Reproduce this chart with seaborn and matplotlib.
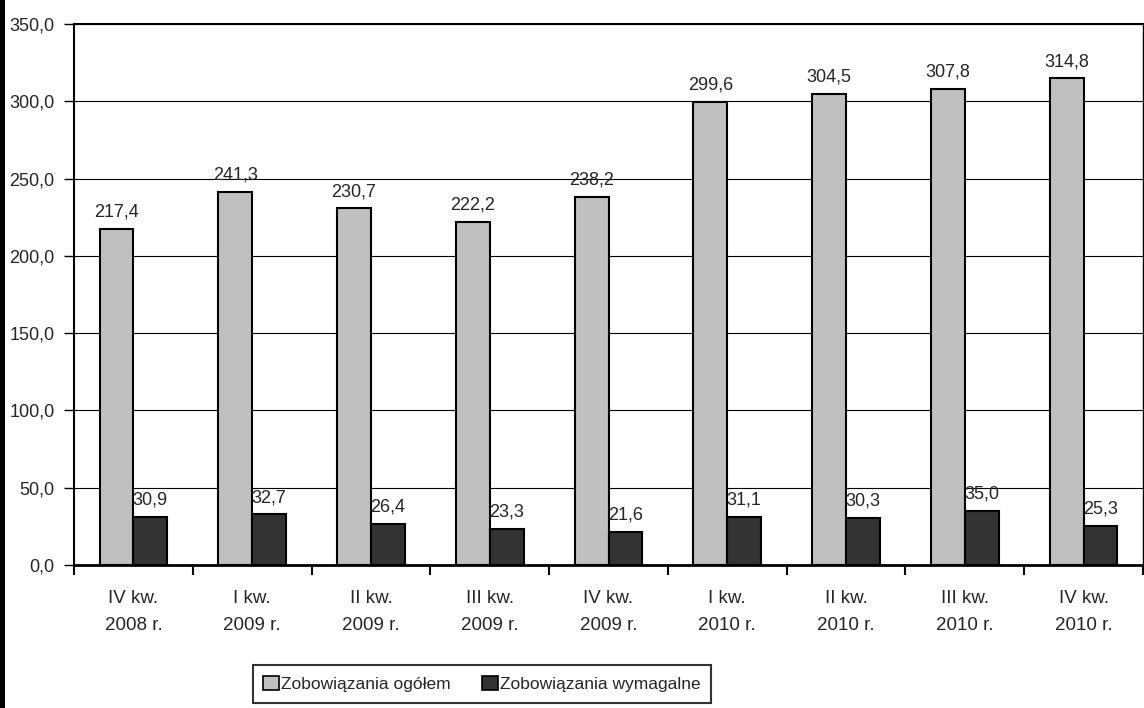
import pandas as pd
import seaborn as sns
import matplotlib.pyplot as plt
from matplotlib.patches import Rectangle

# data
quarters = ['IV kw.\n2008 r.', 'I kw.\n2009 r.', 'II kw.\n2009 r.', 'III kw.\n2009 r.', 'IV kw.\n2009 r.',
            'I kw.\n2010 r.', 'II kw.\n2010 r.', 'III kw.\n2010 r.', 'IV kw.\n2010 r.']
ogolem = [217.4, 241.3, 230.7, 222.2, 238.2, 299.6, 304.5, 307.8, 314.8]
wymagalne = [30.9, 32.7, 26.4, 23.3, 21.6, 31.1, 30.3, 35.0, 25.3]
series = ['Zobowiązania ogółem', 'Zobowiązania wymagalne']

df = pd.DataFrame({
    'kw': quarters * 2,
    'val': ogolem + wymagalne,
    'ser': [series[0]] * len(quarters) + [series[1]] * len(quarters),
})

sns.set_style('white')
plt.rcParams['font.family'] = ['Liberation Sans', 'DejaVu Sans']

fig = plt.figure(figsize=(11.44, 7.08), dpi=100)
ax = fig.add_axes([74 / 1144, 1 - 565 / 708, (1143 - 74) / 1144, (565 - 24) / 708])

sns.barplot(data=df, x='kw', y='val', hue='ser', palette=['#C0C0C0', '#333333'],
            width=0.57, edgecolor='black', linewidth=1.5, ax=ax, legend=True)

ax.set_ylim(0, 350)
ax.set_xlim(-0.5, len(quarters) - 0.5)
ax.set_yticks(range(0, 351, 50))
ax.set_yticklabels([f'{v:.1f}'.replace('.', ',') for v in range(0, 351, 50)], fontsize=13)
ax.yaxis.grid(True, color='black', linewidth=0.8)
ax.set_axisbelow(True)
ax.set_xlabel('')
ax.set_ylabel('')

# category ticks sit between the groups
ax.set_xticks([i - 0.5 for i in range(len(quarters) + 1)], minor=False)
ax.set_xticklabels([])
ax.tick_params(axis='x', which='major', direction='out', length=7, width=1.5, color='black', bottom=True)
ax.set_xticks(range(len(quarters)), minor=True)
ax.set_xticklabels(quarters, minor=True, fontsize=13.5, linespacing=1.75)
ax.tick_params(axis='x', which='minor', length=0, pad=18)
ax.tick_params(axis='y', direction='out', length=7, width=1, color='black', left=True, pad=7)

for s in ax.spines.values():
    s.set_color('black')
    s.set_linewidth(1.5)
ax.spines['bottom'].set_linewidth(2)
ax.spines['right'].set_linewidth(1)

for cont in ax.containers:
    ax.bar_label(cont, labels=[f'{v:.1f}'.replace('.', ',') for v in cont.datavalues],
                 padding=6, fontsize=13)

ax.get_legend().remove()
handles = [Rectangle((0, 0), 1, 1, facecolor=c, edgecolor='black', linewidth=1.2)
           for c in ['#C0C0C0', '#333333']]
leg = fig.legend(handles, series, loc='center', bbox_to_anchor=(482 / 1144, 1 - 684 / 708),
                 ncol=2, fontsize=12.5, frameon=True, fancybox=False, edgecolor='black',
                 handlelength=0.9, handleheight=0.9, handletextpad=0.15, columnspacing=1.8,
                 borderpad=0.6, borderaxespad=0)
leg.get_frame().set_linewidth(1.5)

# black strip along the left edge
fig.patches.append(Rectangle((0, 0), 5 / 1144, 1, transform=fig.transFigure,
                             facecolor='black', edgecolor='none'))

fig.savefig('out.png', dpi=100)
